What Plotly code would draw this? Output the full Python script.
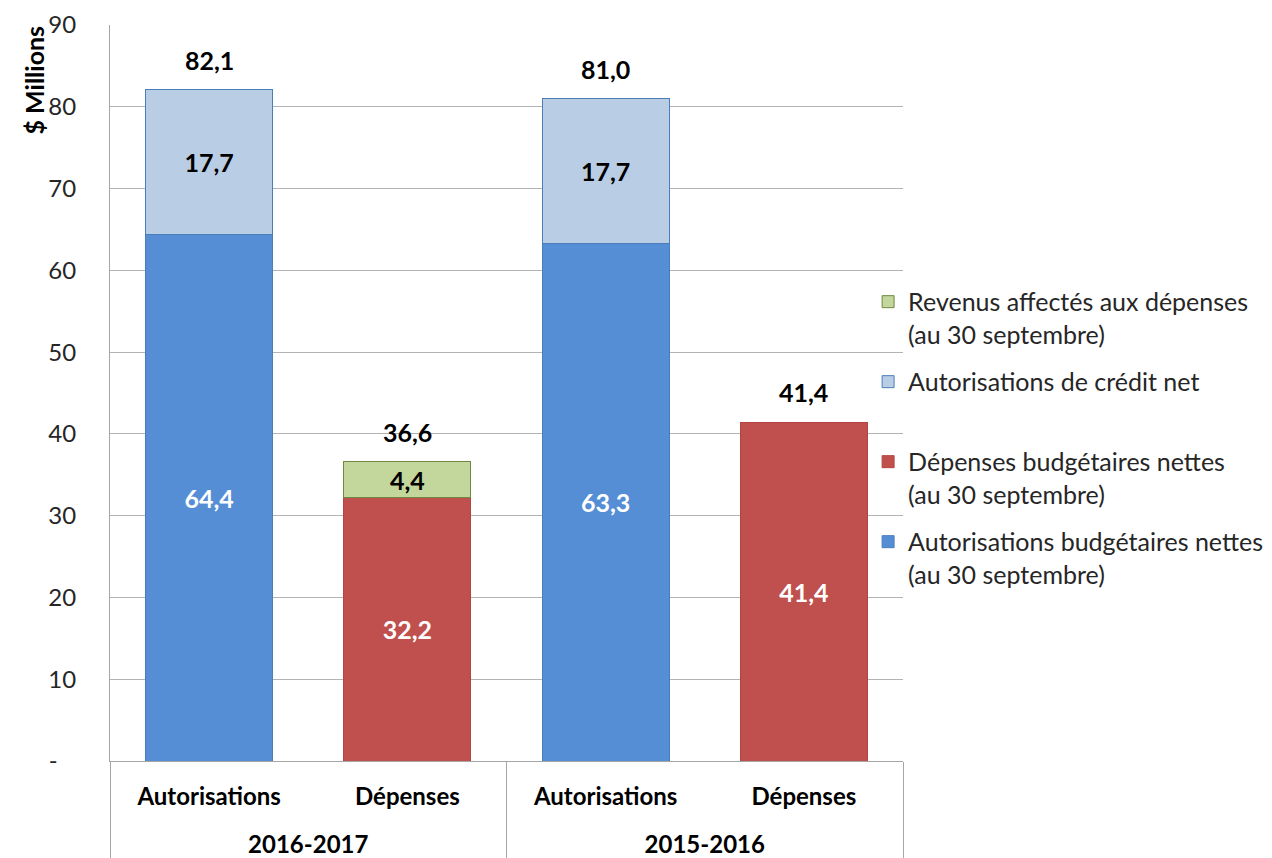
import plotly.graph_objects as go

# Categories: fiscal year (outer) and kind of amount (inner)
years = ["2016-2017", "2016-2017", "2015-2016", "2015-2016"]
kinds = ["Autorisations", "Dépenses", "Autorisations", "Dépenses"]

# Stacked segments ($ millions); None where a segment does not apply
auth_budg = [64.4, None, 63.3, None]      # Autorisations budgétaires nettes
dep_budg = [None, 32.2, None, 41.4]       # Dépenses budgétaires nettes
credit_net = [17.7, None, 17.7, None]     # Autorisations de crédit net
revenus = [None, 4.4, None, None]         # Revenus affectés aux dépenses

y_ticks = [0, 10, 20, 30, 40, 50, 60, 70, 80, 90]
y_ticktext = ["-\u00a0\u00a0\u00a0"] + [str(v) for v in y_ticks[1:]]

FONT = "Lato"
LBL = 25


def fmt(v):
    return None if v is None else f"{v:.1f}".replace(".", ",")


# (legend text, values, fill, outline, label colour, legend rank)
series = [
    ("Autorisations budgétaires nettes<br>(au 30 septembre)", auth_budg, "#558ED5", "#4A7EBB", "white", 4),
    ("Dépenses budgétaires nettes<br>(au 30 septembre)", dep_budg, "#C0504D", "#B5433F", "white", 3),
    ("Autorisations de crédit net<br>\u00a0", credit_net, "#B9CDE5", "#4A7EBB", "black", 2),
    ("Revenus affectés aux dépenses<br>(au 30 septembre)", revenus, "#C3D69B", "#71893F", "black", 1),
]

# Outer labels carry a blank first line so they sit lower under the inner ones
year_labels = ["\u00a0<br>" + y for y in years]

fig = go.Figure()
for i, (name, vals, fill, line, tcolor, rank) in enumerate(series):
    fig.add_trace(go.Bar(
        x=[year_labels, kinds],
        y=vals,
        name=name,
        legendgroup=f"g{i}",
        legendrank=rank,
        marker=dict(color=fill, line=dict(color=line, width=1)),
        text=[fmt(v) for v in vals],
        textposition="inside",
        insidetextanchor="middle",
        textfont=dict(family=FONT, size=LBL, color=tcolor, weight="bold"),
        hoverinfo="skip",
    ))

# Totals above each stack
totals = []
for k in range(len(kinds)):
    parts = [s[1][k] for s in series if s[1][k] is not None]
    totals.append(round(sum(parts), 1))

n = len(kinds)
for k, t in enumerate(totals):
    fig.add_annotation(
        x=(k + 0.5) / n, xref="paper", xanchor="center",
        y=t, yref="y", yanchor="bottom", yshift=13,
        text=fmt(t), showarrow=False,
        font=dict(family=FONT, size=LBL, color="black", weight="bold"),
    )

# Rotated axis title near the top of the value axis
fig.add_annotation(
    x=0, xref="paper", xshift=-77, xanchor="center",
    y=1, yref="paper", yanchor="top", yshift=1,
    text="$ Millions", textangle=-90, showarrow=False,
    font=dict(family=FONT, size=LBL, color="black", weight="bold"),
)

fig.update_layout(
    width=1272, height=858,
    margin=dict(l=110, r=369, t=25, b=97, autoexpand=False),
    barmode="stack",
    bargap=0.36,
    separators=", ",
    plot_bgcolor="white",
    paper_bgcolor="white",
    font=dict(family=FONT, size=LBL, color="black"),
    uniformtext=dict(minsize=LBL, mode="show"),
    showlegend=True,
    legend=dict(
        x=0.956, xanchor="left", y=0.655, yanchor="top",
        traceorder="grouped", tracegroupgap=12,
        valign="top",
        font=dict(family=FONT, size=LBL, color="#262626"),
        bgcolor="rgba(0,0,0,0)",
    ),
)

fig.update_xaxes(
    type="multicategory",
    showline=True, linecolor="#A6A6A6", linewidth=1,
    showdividers=True, dividercolor="#A6A6A6", dividerwidth=1,
    tickfont=dict(family=FONT, size=24, color="black", weight="bold"),
    ticks="", showgrid=False, ticklabelstandoff=14, automargin=False,
)
fig.update_yaxes(
    range=[0, 90],
    tickvals=y_ticks, ticktext=y_ticktext,
    showgrid=True, gridcolor="#B3B3B3", gridwidth=1,
    showline=True, linecolor="#A6A6A6", linewidth=1,
    mirror=False, zeroline=False,
    ticks="", ticklabelstandoff=28, automargin=False,
    tickfont=dict(family=FONT, size=24, color="#262626"),
)

fig.write_html("out.html")
